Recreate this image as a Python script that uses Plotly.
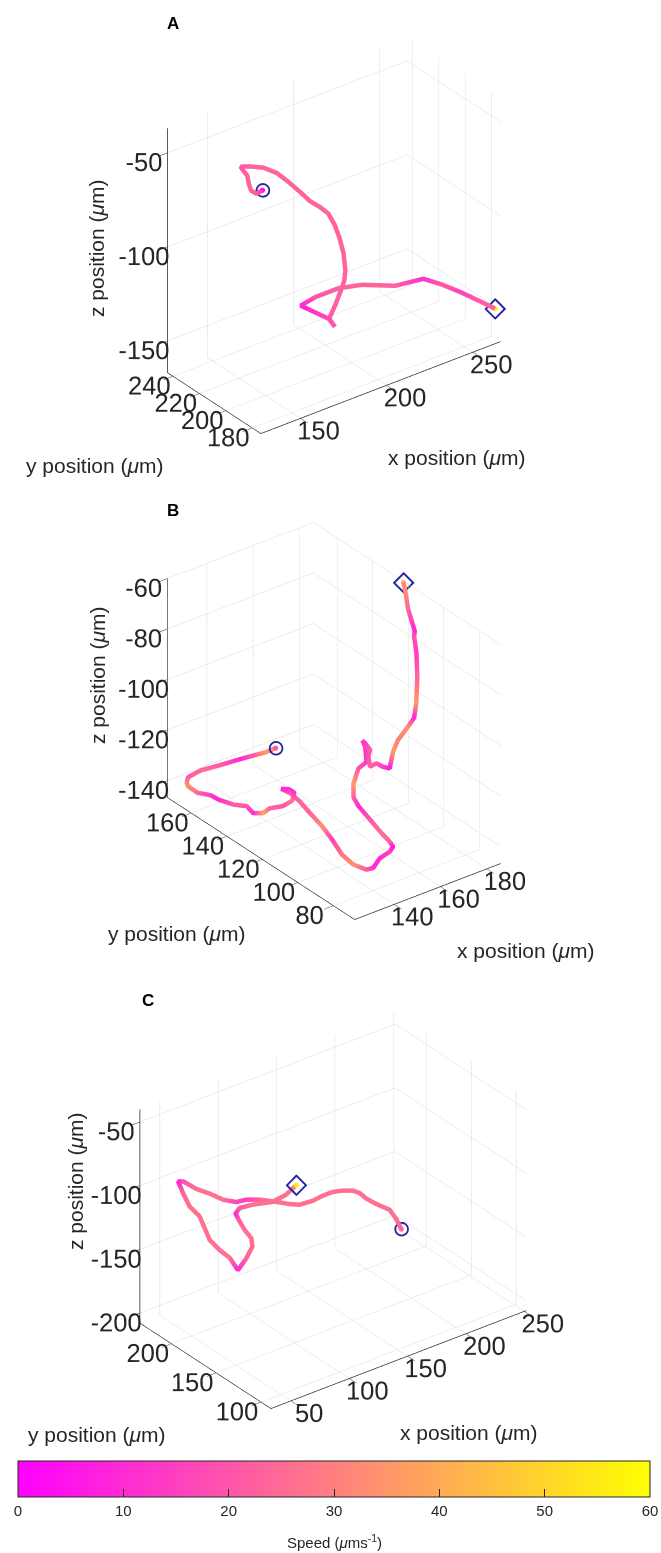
import math
import plotly.graph_objects as go

# ---------------- data ----------------
# Panel A trajectory (um) and speed (um/s)
a_x = [166.3, 162.9, 159.8, 158.4, 157.5, 154.9, 153.6, 157.8, 163.9, 170.1, 175.3, 180.5, 184.7, 188.9,
       192.2, 194.5, 195.8, 196.5, 196.0, 194.6, 191.9, 188.1, 183.4, 179.2, 183.0, 169.3, 174.0, 183.6,
       194.7, 212.6, 227.5, 236.6, 246.7, 256.7, 262.9]
a_y = [223.5, 223.5, 223.5, 223.5, 223.5, 223.5, 223.5, 221.5, 219.5, 217.5, 215.5, 213.5, 211.5, 209.5,
       207.5, 205.5, 203.5, 201.5, 199.5, 198.5, 197.5, 196.5, 195.5, 185.5, 194.5, 198.5, 193.5, 188.5,
       185.5, 183.5, 181.5, 179.5, 177.5, 175.5, 173.5]
a_z = [-74.3, -75.0, -72.4, -68.3, -63.5, -59.6, -57.3, -57.8, -59.7, -63.8, -69.5, -75.7, -81.1, -84.8,
       -88.5, -94.6, -101.3, -108.6, -116.4, -120.8, -124.7, -130.1, -136.0, -134.1, -135.5, -125.3, -120.1,
       -116.5, -117.2, -123.1, -123.7, -129.0, -136.0, -143.6, -148.4]
a_speed = [10, 21, 23, 23, 23, 22, 21, 23, 23, 23, 23, 23, 23, 23, 23, 23, 23, 23, 23, 23, 23, 22, 22, 20,
           18, 9, 20, 23, 23, 23, 11, 22, 15, 22, 22]
a_start_speed = 2
a_end_speed = 55

# Panel B
b_x = [146.3, 144.0, 141.5, 139.4, 135.5, 131.6, 127.7, 126.3, 125.3, 126.3, 128.1, 129.3, 131.9, 133.8,
       135.8, 137.0, 136.8, 139.4, 140.4, 142.9, 143.8, 141.8, 142.7, 143.5, 144.7, 145.7, 145.4, 143.5,
       143.8, 146.4, 147.8, 152.2, 158.0, 161.0, 161.1, 159.2, 157.2, 153.7, 151.6, 150.0, 150.6, 152.6,
       152.0, 150.8, 151.2, 152.6, 151.8, 151.0, 152.3, 153.6, 154.9, 157.9, 161.6, 167.4, 171.6, 175.9,
       178.9, 180.9, 181.9, 182.4, 183.4, 184.4, 185.4]
b_y = [143, 146, 150, 154, 160, 166, 168, 167, 165, 161, 156, 153, 148, 143, 142, 138, 134, 130, 126,
       128, 132, 134, 130, 126, 122, 116, 110, 102, 96, 92, 90, 92, 94, 96, 98, 101, 104, 106, 106, 104,
       102, 100, 100, 100, 99, 98, 98, 96, 94, 92, 90, 92, 94, 96, 98, 102.4, 105.7, 108.8, 111.4, 111.7,
       116.7, 119.8, 122]
b_z = [-121.4, -123.7, -126.0, -128.4, -132.1, -135.6, -137.8, -138.9, -139.2, -140.3, -139.6, -140.4,
       -141.0, -140.0, -143.0, -141.6, -137.8, -136.0, -132.4, -131.0, -131.8, -131.8, -132.0, -133.6,
       -136.6, -139.8, -142.2, -143.8, -145.1, -146.2, -145.1, -143.7, -144.1, -144.1, -143.1, -139.7,
       -135.7, -130.0, -125.9, -119.0, -112.2, -109.4, -103.1, -100.3, -101.0, -103.7, -106.1, -108.9,
       -107.1, -108.0, -108.2, -103.6, -101.1, -98.9, -97.7, -95.6, -87.6, -80.3, -75.2, -73.5, -67.5,
       -61.3, -60.0]
b_speed = [30, 36, 20, 10, 22, 24, 22, 30, 34, 24, 14, 10, 22, 20, 10, 38, 24, 20, 28, 12, 10, 8, 20,
           24, 22, 34, 14, 28, 34, 22, 10, 10, 16, 5, 24, 26, 20, 10, 22, 36, 20, 12, 14, 12, 14, 22, 18,
           22, 22, 14, 6, 36, 30, 34, 8, 36, 24, 14, 20, 8, 24, 34, 30]
b_start_speed = 20
b_end_speed = 40

# Panel C
c_x = [175.2, 172.4, 169.0, 161.4, 156.0, 153.3, 149.1, 142.1, 135.0, 128.0, 121.0, 111.1, 104.1, 94.3,
       81.5, 71.6, 64.6, 54.7, 47.9, 41.9, 34.9, 36.2, 38.9, 43.1, 50.1, 52.9, 55.6, 62.6, 69.7, 75.2,
       80.9, 84.5, 82.1, 74.8, 69.0, 60.9, 61.3, 69.6, 82.1, 89.0, 92.9]
c_y = [128.9, 130.9, 133.9, 138.9, 142.9, 146.9, 148.9, 150.9, 152.9, 154.9, 156.9, 158.9, 160.9, 162.9,
       164.9, 166.9, 168.9, 170.9, 176.9, 183.9, 188.9, 196.9, 194.9, 192.9, 190.9, 188.9, 186.9, 184.9,
       182.9, 180.9, 178.9, 176.9, 174.9, 172.9, 170.9, 164.9, 160.9, 156.9, 150.9, 144.9, 138.9]
c_z = [-135.3, -127.2, -120.3, -115.4, -111.1, -107.6, -105.2, -103.6, -103.1, -104.5, -106.9, -107.5,
       -105.4, -101.2, -95.8, -93.3, -93.6, -89.2, -84.8, -82.2, -76.3, -80.2, -89.4, -100.6, -110.0,
       -119.2, -128.5, -137.9, -145.6, -156.3, -148.1, -139.3, -130.9, -120.9, -111.3, -99.6, -93.4,
       -91.9, -91.4, -85.3, -76.5]
c_speed = [24, 26, 26, 26, 26, 26, 26, 26, 26, 26, 26, 26, 26, 26, 24, 14, 16, 26, 26, 26, 20, 8, 24,
           26, 26, 26, 26, 26, 26, 10, 24, 26, 26, 26, 24, 10, 22, 26, 26, 26, 30]
c_start_speed = 22
c_end_speed = 55

# axis limits and ticks
a_xrange, a_yrange, a_zrange = [127, 266], [173.5, 244], [-167, -37]
a_xticks, a_yticks, a_zticks = [150, 200, 250], [180, 200, 220, 240], [-150, -100, -50]
b_xrange, b_yrange, b_zrange = [122.9, 186], [68, 173.5], [-146.7, -60]
b_xticks, b_yticks, b_zticks = [140, 160, 180], [80, 100, 120, 140, 160], [-140, -120, -100, -80, -60]
c_xrange, c_yrange, c_zrange = [32.9, 251.5], [88.9, 235.2], [-207.9, -40.1]
c_xticks, c_yticks, c_zticks = [50, 100, 150, 200, 250], [100, 150, 200], [-200, -150, -100, -50]

cbar_ticks = [0, 10, 20, 30, 40, 50, 60]
panel_letters = ["A", "B", "C"]
x_title = "x position (<i>μ</i>m)"
y_title = "y position (<i>μ</i>m)"
z_title = "z position (<i>μ</i>m)"
cbar_title = "Speed (<i>μ</i>ms<sup>-1</sup>)"

# ---------------- styling ----------------
W, H = 661, 1553
FONT = "Liberation Sans, Arial, Helvetica, sans-serif"
INK = "#262626"
spring = [[0, "rgb(255,0,255)"], [1, "rgb(255,255,0)"]]

AZ, EL = math.radians(-37.5), math.radians(30)
view = (math.sin(AZ) * math.cos(EL), -math.cos(AZ) * math.cos(EL), math.sin(EL))
EYE_D = 2.0
SCALE_C = 1.805
DOM_H = 440
DOM_W = 640


def px(xp, yp):
    """screen pixel -> paper coords"""
    return xp / W, 1 - yp / H


fig = go.Figure()


def add_panel(scene, xs, ys, zs, sp, s0, s1, showscale):
    line = dict(color=sp, colorscale=spring, cmin=0, cmax=60, width=9)
    if showscale:
        cbx, cby = px(334, 1461)
        line.update(showscale=True, colorbar=dict(
            orientation="h", x=cbx, xanchor="center", y=cby, yanchor="top",
            len=632 / W, lenmode="fraction", thickness=36, thicknessmode="pixels",
            outlinewidth=1, outlinecolor=INK, ticks="inside", ticklen=8, tickwidth=1, tickcolor=INK,
            tickvals=cbar_ticks, tickfont=dict(size=15, color=INK, family=FONT),
            ticklabeloverflow="allow", xpad=0, ypad=0))
    fig.add_trace(go.Scatter3d(x=xs, y=ys, z=zs, mode="lines", line=line, scene=scene,
                               hoverinfo="skip", showlegend=False))
    fig.add_trace(go.Scatter3d(x=[xs[0], xs[-1]], y=[ys[0], ys[-1]], z=[zs[0], zs[-1]], mode="markers",
                               marker=dict(size=3, color=[s0, s1], colorscale=spring, cmin=0, cmax=60),
                               scene=scene, hoverinfo="skip", showlegend=False))
    fig.add_trace(go.Scatter3d(x=[xs[0]], y=[ys[0]], z=[zs[0]], mode="markers",
                               marker=dict(symbol="circle-open", size=8, color="rgb(20,20,255)",
                                           line=dict(width=1)),
                               scene=scene, hoverinfo="skip", showlegend=False))
    fig.add_trace(go.Scatter3d(x=[xs[-1]], y=[ys[-1]], z=[zs[-1]], mode="markers",
                               marker=dict(symbol="diamond-open", size=7, color="rgb(20,20,255)",
                                           line=dict(width=1)),
                               scene=scene, hoverinfo="skip", showlegend=False))


def axis(rng, ticks):
    return dict(range=rng, autorange=False, tickvals=ticks, ticktext=[str(t) for t in ticks],
                tickangle=0, showbackground=False, showgrid=True,
                gridcolor="#d9d9d9", gridwidth=1, zeroline=False, showline=True, linecolor=INK,
                linewidth=1.5, ticks="outside", ticklen=12, tickcolor=INK, tickwidth=1,
                tickfont=dict(size=17.5, color=INK, family=FONT), showspikes=False, title=dict(text=""))


def scene_layout(xr, yr, zr, xt, yt, zt, cx, cy):
    lx, ly, lz = xr[1] - xr[0], yr[1] - yr[0], zr[1] - zr[0]
    hp = lz * 0.866 + lx * 0.3044 + ly * 0.3967
    x0, y0 = px(cx, cy)
    hd = DOM_H / H / 2
    wd = DOM_W / W / 2
    return dict(
        domain=dict(x=[x0 - wd, x0 + wd], y=[y0 - hd, y0 + hd]),
        xaxis=axis(xr, xt), yaxis=axis(yr, yt), zaxis=axis(zr, zt),
        aspectmode="manual",
        aspectratio=dict(x=lx / hp * SCALE_C, y=ly / hp * SCALE_C, z=lz / hp * SCALE_C),
        camera=dict(eye=dict(x=view[0] * EYE_D, y=view[1] * EYE_D, z=view[2] * EYE_D),
                    up=dict(x=0, y=0, z=1), center=dict(x=0, y=0, z=0),
                    projection=dict(type="orthographic")),
        bgcolor="white")


add_panel("scene", a_x, a_y, a_z, a_speed, a_start_speed, a_end_speed, False)
add_panel("scene2", b_x, b_y, b_z, b_speed, b_start_speed, b_end_speed, False)
add_panel("scene3", c_x, c_y, c_z, c_speed, c_start_speed, c_end_speed, True)

annots = []
for letter, (lx_, ly_) in zip(panel_letters, [(173, 23), (173, 510), (148, 1000)]):
    x_, y_ = px(lx_, ly_)
    annots.append(dict(text="<b>%s</b>" % letter, x=x_, y=y_, xref="paper", yref="paper",
                       xanchor="center", yanchor="middle", showarrow=False,
                       font=dict(size=17, color="black", family=FONT)))
label_pos = [
    (x_title, 457, 457, 0), (y_title, 95, 466, 0), (z_title, 97, 248, -90),
    (x_title, 526, 950, 0), (y_title, 177, 933, 0), (z_title, 97, 675, -90),
    (x_title, 469, 1432, 0), (y_title, 97, 1434, 0), (z_title, 75, 1181, -90),
]
for txt, lx_, ly_, ang in label_pos:
    x_, y_ = px(lx_, ly_)
    annots.append(dict(text=txt, x=x_, y=y_, xref="paper", yref="paper", showarrow=False,
                       xanchor="center", yanchor="middle",
                       textangle=ang, font=dict(size=21, color=INK, family=FONT)))
cx_, cy_ = px(334, 1541)
annots.append(dict(text=cbar_title, x=cx_, y=cy_, xref="paper", yref="paper", showarrow=False,
                   xanchor="center", yanchor="middle", font=dict(size=15, color=INK, family=FONT)))

fig.update_layout(
    width=W, height=H, margin=dict(l=0, r=0, t=0, b=0), paper_bgcolor="white",
    font=dict(family=FONT, color=INK),
    scene=scene_layout(a_xrange, a_yrange, a_zrange, a_xticks, a_yticks, a_zticks, 334, 234.5),
    scene2=scene_layout(b_xrange, b_yrange, b_zrange, b_xticks, b_yticks, b_zticks, 333.7, 720.8),
    scene3=scene_layout(c_xrange, c_yrange, c_zrange, c_xticks, c_yticks, c_zticks, 333.4, 1210.2),
    annotations=annots, showlegend=False)

fig.write_html("out.html", config={"displayModeBar": False},
               post_script="document.body.style.margin='0px';document.body.style.overflow='hidden';")
